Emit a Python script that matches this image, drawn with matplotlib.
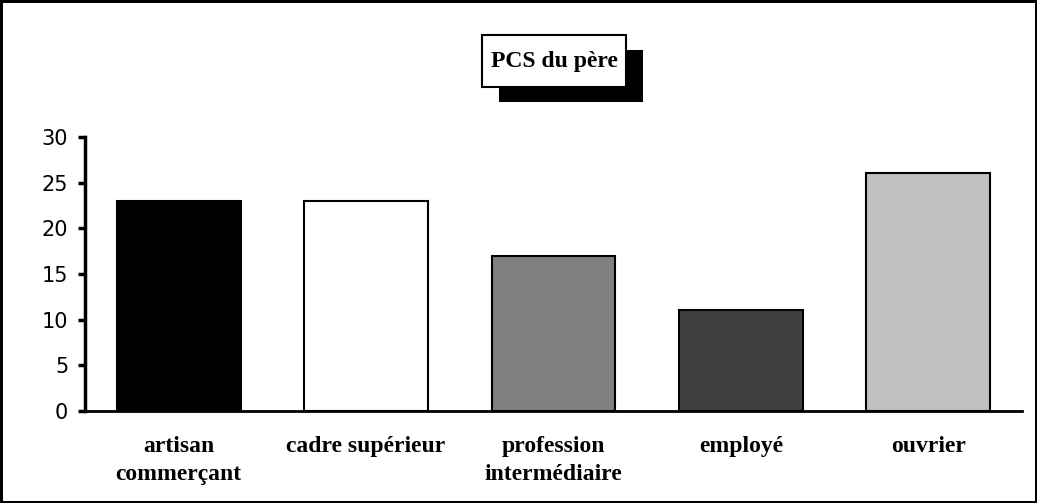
import matplotlib
matplotlib.use('Agg')
import matplotlib.pyplot as plt
from matplotlib.patches import Rectangle

categories = ['artisan\ncommerçant', 'cadre supérieur', 'profession\nintermédiaire', 'employé', 'ouvrier']
values = [23, 23, 17, 11, 26]
colors = ['#000000', '#ffffff', '#808080', '#404040', '#c0c0c0']
yticks = [0, 5, 10, 15, 20, 25, 30]


def draw_chart(output_file):
    fig = plt.figure(figsize=(10.37, 5.03), dpi=100)
    fig.patch.set_edgecolor('black')
    fig.patch.set_linewidth(2.5)
    ax = fig.add_axes([0.082, 0.183, 0.9035, 0.545])

    x = range(len(categories))
    ax.bar(x, values, width=0.66, color=colors, edgecolor='black', linewidth=1.5)

    ax.set_xlim(-0.5, len(categories) - 0.5)
    ax.set_ylim(0, 30)
    ax.set_yticks(yticks)
    ax.set_yticklabels([str(t) for t in yticks], fontsize=15, family='DejaVu Sans')
    ax.set_xticks(list(x))
    ax.set_xticklabels(categories, fontsize=17, family='Liberation Serif',
                       fontweight='bold', linespacing=1.45, va='top')

    for side in ['top', 'right']:
        ax.spines[side].set_visible(False)
    ax.spines['left'].set_linewidth(2.5)
    ax.spines['bottom'].set_linewidth(2)
    ax.tick_params(axis='y', direction='out', length=5, width=2.5, pad=7)
    ax.tick_params(axis='x', length=0, pad=18)

    # title box with its black shadow
    fig.patches.append(Rectangle((0.4812, 0.797), 0.1389, 0.1034, transform=fig.transFigure,
                                 facecolor='black', edgecolor='none', zorder=1))
    fig.patches.append(Rectangle((0.4648, 0.827), 0.1389, 0.1034, transform=fig.transFigure,
                                 facecolor='white', edgecolor='black', linewidth=1.5, zorder=2))
    fig.text(0.5343, 0.877, 'PCS du père', fontsize=17, family='Liberation Serif',
             fontweight='bold', ha='center', va='center', zorder=3)

    fig.savefig(output_file, dpi=100, edgecolor=fig.get_edgecolor())
    plt.close(fig)


if __name__ == '__main__':
    draw_chart('out.png')
